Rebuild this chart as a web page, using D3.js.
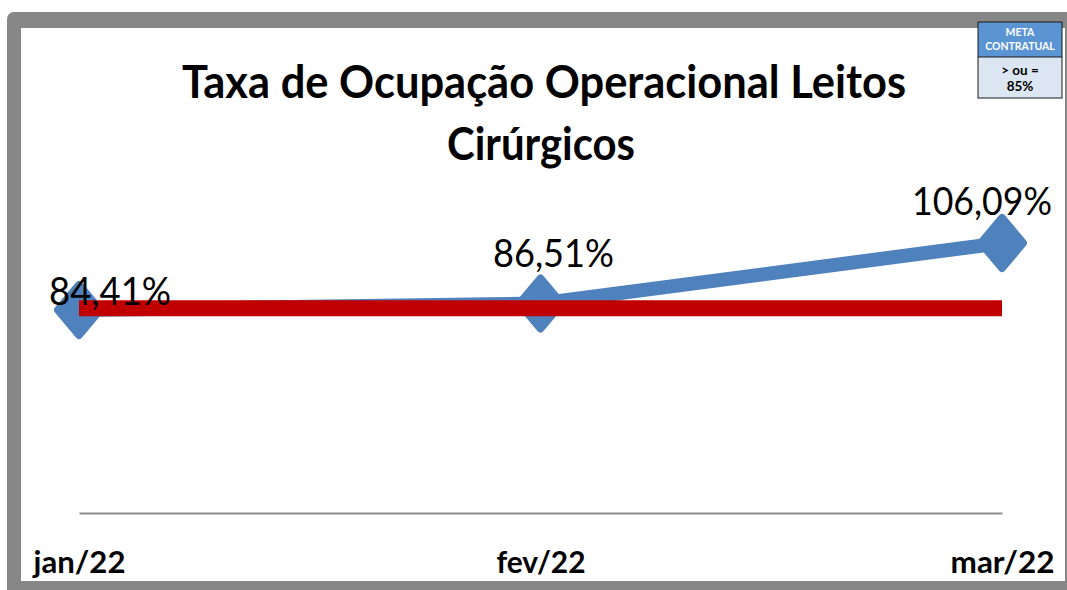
<!DOCTYPE html>
<html lang="pt">
<head>
<meta charset="UTF-8">
<title>Taxa de Ocupação Operacional Leitos Cirúrgicos</title>
<script src="https://d3js.org/d3.v7.min.js"></script>
<style>
  body { margin: 0; background: #fff; }
  svg { display: block; font-family: Lato, "Open Sans", sans-serif; }
</style>
</head>
<body>
<div id="chart"></div>
<script>
// chart data
const months = ["jan/22", "fev/22", "mar/22"];
const taxa = [84.41, 86.51, 106.09];
const meta = [85, 85, 85];
const valueLabels = ["84,41%", "86,51%", "106,09%"];
const titleLines = ["Taxa de Ocupação Operacional Leitos", "Cirúrgicos"];
const metaHeader = ["META", "CONTRATUAL"];
const metaBody = ["> ou =", "85%"];

// layout
const W = 1067, H = 590;
const plot = { left: 79, right: 1002, top: 243, bottom: 513 };
const labelOffset = [[31, -5], [13, -36], [-20, -28]];
const labelWidth = [122, 121, 140];
const tickWidth = [92, 89, 104];

const svg = d3.select("#chart").append("svg")
  .attr("width", W)
  .attr("height", H);

// frame
svg.append("rect")
  .attr("x", 7).attr("y", 12).attr("width", 1090).attr("height", 610)
  .attr("rx", 7).attr("fill", "#878787");
svg.append("rect")
  .attr("x", 21).attr("y", 28).attr("width", 1044).attr("height", 553)
  .attr("fill", "#fff");

// scales
const x = d3.scalePoint().domain(months).range([plot.left, plot.right]);
const y = d3.scaleLinear().domain([18.7, 106.09]).range([plot.bottom, plot.top]);

// title
svg.append("text")
  .attr("x", 544).attr("y", 98)
  .attr("text-anchor", "middle")
  .attr("font-size", 45).attr("font-weight", "bold")
  .attr("textLength", 724).attr("lengthAdjust", "spacingAndGlyphs")
  .text(titleLines[0]);
svg.append("text")
  .attr("x", 541).attr("y", 160)
  .attr("text-anchor", "middle")
  .attr("font-size", 45).attr("font-weight", "bold")
  .attr("textLength", 188).attr("lengthAdjust", "spacingAndGlyphs")
  .text(titleLines[1]);

// x axis
const xAxis = svg.append("g")
  .attr("transform", `translate(0,${plot.bottom})`)
  .call(d3.axisBottom(x).tickSize(0).tickPadding(60));
xAxis.select(".domain").attr("stroke", "#8c8c8c").attr("stroke-width", 2);
xAxis.selectAll(".tick text")
  .attr("fill", "#000")
  .attr("font-family", "Lato, sans-serif")
  .attr("font-size", 30).attr("font-weight", "bold")
  .attr("dy", null).attr("y", 60)
  .attr("textLength", (d, i) => tickWidth[i])
  .attr("lengthAdjust", "spacingAndGlyphs");

const pts = months.map((m, i) => ({ m, v: taxa[i], lab: valueLabels[i], i }));

// blue series line
svg.append("path")
  .datum(pts)
  .attr("fill", "none")
  .attr("stroke", "#4f81bd")
  .attr("stroke-width", 14)
  .attr("d", d3.line().x(d => x(d.m)).y(d => y(d.v)));

// diamond markers
svg.selectAll(".marker")
  .data(pts)
  .join("path")
  .attr("class", "marker")
  .attr("transform", d => `translate(${x(d.m)},${y(d.v)})`)
  .attr("d", "M0,-25L21,0L0,25L-21,0Z")
  .attr("fill", "#4f81bd")
  .attr("stroke", "#4f81bd")
  .attr("stroke-width", 8)
  .attr("stroke-linejoin", "round");

// meta (target) line
svg.append("path")
  .datum(meta)
  .attr("fill", "none")
  .attr("stroke", "#c00000")
  .attr("stroke-width", 16)
  .attr("d", d3.line().x((d, i) => x(months[i])).y(d => y(d)));

// value labels
svg.selectAll(".vlabel")
  .data(pts)
  .join("text")
  .attr("class", "vlabel")
  .attr("x", d => x(d.m) + labelOffset[d.i][0])
  .attr("y", d => y(d.v) + labelOffset[d.i][1])
  .attr("text-anchor", "middle")
  .attr("font-size", 39)
  .attr("textLength", d => labelWidth[d.i])
  .attr("lengthAdjust", "spacingAndGlyphs")
  .text(d => d.lab);

// meta contratual box
const box = svg.append("g").attr("transform", "translate(978,22)");
box.append("rect").attr("width", 84).attr("height", 35).attr("fill", "#5b94d3");
box.append("rect").attr("y", 35).attr("width", 84).attr("height", 41).attr("fill", "#dce6f2");
box.append("rect").attr("width", 84).attr("height", 76)
  .attr("fill", "none").attr("stroke", "#1a1a1a").attr("stroke-width", 1);
box.append("line").attr("x1", 0).attr("x2", 84).attr("y1", 35).attr("y2", 35)
  .attr("stroke", "#1a1a1a").attr("stroke-width", 1);
box.selectAll(".mh").data(metaHeader).join("text")
  .attr("x", 42).attr("y", (d, i) => 14 + i * 14)
  .attr("text-anchor", "middle").attr("fill", "#fff")
  .attr("font-size", 10.5).attr("font-weight", "bold")
  .text(d => d);
box.selectAll(".mb").data(metaBody).join("text")
  .attr("x", 42).attr("y", (d, i) => 53 + i * 16)
  .attr("text-anchor", "middle").attr("fill", "#000")
  .attr("font-size", 13.5).attr("font-weight", "bold")
  .text(d => d);
</script>
</body>
</html>
